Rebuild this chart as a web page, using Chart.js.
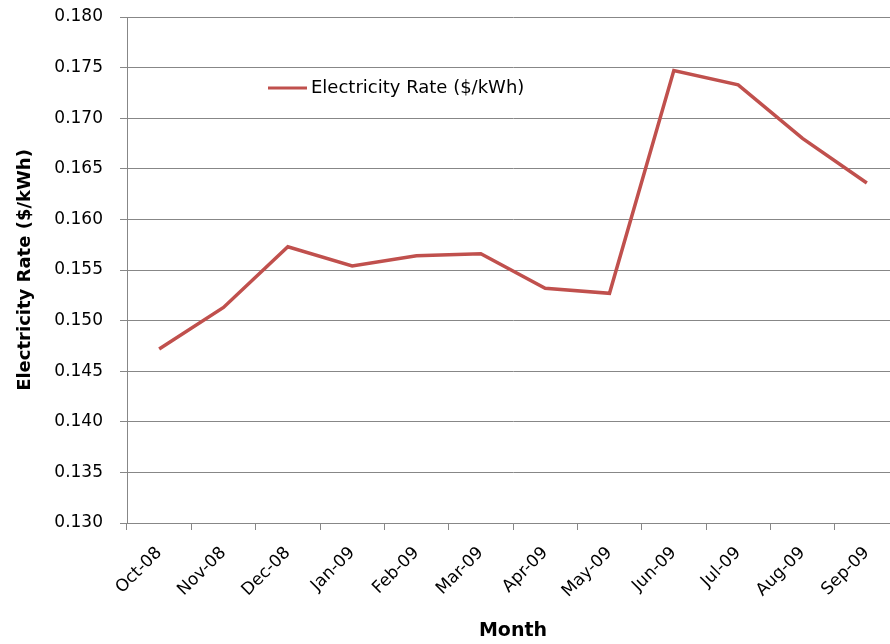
<!DOCTYPE html>
<html>
<head>
<meta charset="utf-8">
<script src="https://cdn.jsdelivr.net/npm/chart.js@4"></script>
<style>
  html, body { margin: 0; padding: 0; background: #fff; overflow: hidden; }
  #wrap { position: relative; width: 899px; height: 644px; }
</style>
</head>
<body>
<div id="wrap"><canvas id="chart" width="899" height="644"></canvas></div>
<script>
// Monthly electricity rate, Oct 2008 - Sep 2009
const months = ['Oct-08', 'Nov-08', 'Dec-08', 'Jan-09', 'Feb-09', 'Mar-09',
                'Apr-09', 'May-09', 'Jun-09', 'Jul-09', 'Aug-09', 'Sep-09'];
const rates = [0.1472, 0.1513, 0.1573, 0.1554, 0.1564, 0.1566,
               0.1532, 0.1527, 0.1747, 0.1733, 0.1680, 0.1636];
const seriesLabel = 'Electricity Rate ($/kWh)';
const yTitle = 'Electricity Rate ($/kWh)';
const xTitle = 'Month';
const yMin = 0.130, yMax = 0.180, yStep = 0.005;

const FONT = 'DejaVu Sans';
const GRID = '#878787';
const LINE = '#C0504D';

// Legend drawn inside the plot area, line sample followed by the series name
const insideLegend = {
  id: 'insideLegend',
  afterDraw(chart) {
    const { ctx, chartArea } = chart;
    const ds = chart.data.datasets[0];
    const x = chartArea.left + 141;
    const y = chartArea.top + 71;
    ctx.save();
    ctx.strokeStyle = ds.borderColor;
    ctx.lineWidth = 3;
    ctx.beginPath();
    ctx.moveTo(x, y);
    ctx.lineTo(x + 39, y);
    ctx.stroke();
    ctx.fillStyle = '#000';
    ctx.font = '18px "' + FONT + '"';
    ctx.textBaseline = 'middle';
    ctx.textAlign = 'left';
    ctx.fillText(ds.label, x + 43, y);
    ctx.restore();
  }
};

new Chart(document.getElementById('chart'), {
  type: 'line',
  data: {
    labels: months,
    datasets: [{
      label: seriesLabel,
      data: rates,
      borderColor: LINE,
      backgroundColor: LINE,
      borderWidth: 3.5,
      pointRadius: 0,
      tension: 0,
      fill: false
    }]
  },
  options: {
    responsive: false,
    animation: false,
    layout: { padding: { top: 17, right: 0, bottom: 0, left: 0 } },
    plugins: {
      legend: { display: false },
      tooltip: { enabled: false }
    },
    scales: {
      x: {
        type: 'category',
        offset: true,
        grid: {
          display: true,
          offset: true,
          drawOnChartArea: false,
          drawTicks: true,
          tickLength: 7,
          color: GRID
        },
        border: { display: true, color: GRID, width: 1 },
        ticks: {
          color: '#000',
          font: { family: FONT, size: 17 },
          minRotation: 45,
          maxRotation: 45,
          autoSkip: false,
          padding: 13
        },
        title: {
          display: true,
          text: xTitle,
          color: '#000',
          font: { family: FONT, size: 19, weight: 'bold' },
          padding: { top: 0, bottom: 2 }
        },
        afterFit(scale) {
          scale.height = 121;
          scale.paddingLeft = 0;
          scale.paddingRight = 0;
        }
      },
      y: {
        min: yMin,
        max: yMax,
        grid: {
          color: GRID,
          tickLength: 7,
          drawTicks: true
        },
        border: { display: true, color: GRID, width: 1 },
        ticks: {
          stepSize: yStep,
          color: '#000',
          font: { family: FONT, size: 17 },
          padding: 17,
          callback: v => Number(v).toFixed(3)
        },
        title: {
          display: true,
          text: yTitle,
          color: '#000',
          font: { family: FONT, size: 18, weight: 'bold' },
          padding: { top: 15, bottom: 0 }
        },
        afterFit(scale) {
          scale.width = 127;
          scale.paddingTop = 0;
          scale.paddingBottom = 0;
        }
      }
    }
  },
  plugins: [insideLegend]
});
</script>
</body>
</html>
